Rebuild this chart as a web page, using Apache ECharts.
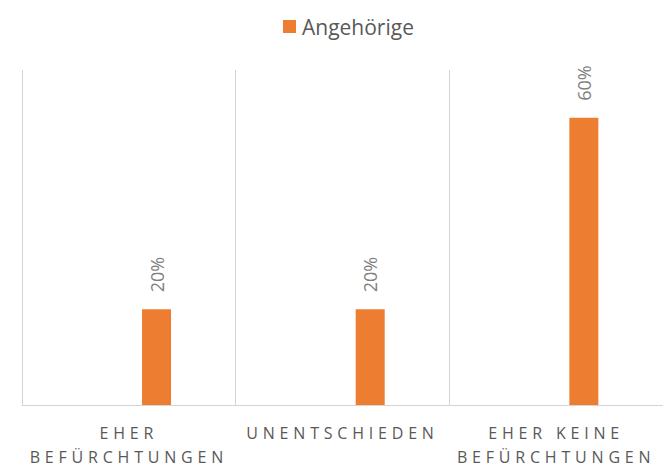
<!DOCTYPE html>
<html>
<head>
<meta charset="utf-8">
<script src="https://cdn.jsdelivr.net/npm/echarts@6/dist/echarts.min.js"></script>
<style>
  html, body { margin: 0; padding: 0; background: #fff; }
  #chart { width: 663px; height: 469px; }
</style>
</head>
<body>
<div id="chart"></div>
<script>
// Kategorien und Werte (in %)
var categories = ['EHER\nBEFÜRCHTUNGEN', 'UNENTSCHIEDEN', 'EHER KEINE\nBEFÜRCHTUNGEN'];
var seriesName = 'Angehörige';
var values = [20, 20, 60];
// leere Reihe, schiebt die Balken wie im Original nach rechts
var emptyValues = [null, null, null];

var textColor = '#595959';
var gridColor = '#d4d4d4';
var fontFamily = "'Open Sans', sans-serif";

var chart = echarts.init(document.getElementById('chart'), null, { renderer: 'svg' });

var option = {
	animation: false,
	legend: {
		data: [seriesName],
		left: 278,
		top: 11,
		itemWidth: 13,
		itemHeight: 13,
		itemGap: 10,
		icon: 'rect',
		textStyle: { color: textColor, fontSize: 21, fontFamily: fontFamily, padding: [0, 0, 0, 1] }
	},
	grid: {
		left: 22,
		width: 646,
		top: 70,
		bottom: 64,
		containLabel: false
	},
	xAxis: {
		type: 'category',
		data: categories,
		axisLine: { show: true, lineStyle: { color: gridColor, width: 1 } },
		axisTick: { show: false },
		splitLine: { show: true, lineStyle: { color: gridColor, width: 1 } },
		axisLabel: {
			interval: 0,
			margin: 16,
			color: textColor,
			fontSize: 16,
			lineHeight: 24,
			fontFamily: fontFamily
		}
	},
	yAxis: {
		type: 'value',
		min: 0,
		max: 70,
		show: false,
		splitLine: { show: false }
	},
	series: [
		{
			name: '',
			type: 'bar',
			barWidth: 29,
			barGap: '91%',
			data: emptyValues,
			itemStyle: { color: 'transparent' }
		},
		{
			name: seriesName,
			type: 'bar',
			barWidth: 29,
			barGap: '91%',
			data: values,
			itemStyle: { color: '#ed7d31' },
			label: {
				show: true,
				position: 'top',
				distance: 17,
				rotate: 90,
				align: 'left',
				verticalAlign: 'middle',
				color: '#7f7f7f',
				fontSize: 18,
				fontFamily: fontFamily,
				formatter: function(p){ return p.value + '%'; }
			}
		}
	]
};
chart.setOption(option);

// Sperrschrift fuer die Achsenbeschriftungen (wie im Excel-Original)
var labelLines = [];
categories.map(function(c){ labelLines = labelLines.concat(c.split('\n')); });
var texts = document.querySelectorAll('#chart text, #chart tspan');
Array.prototype.forEach.call(texts, function(el){
	if (labelLines.indexOf(el.textContent.trim()) > -1) {
		el.style.letterSpacing = '4.8px';
	}
});
</script>
</body>
</html>
